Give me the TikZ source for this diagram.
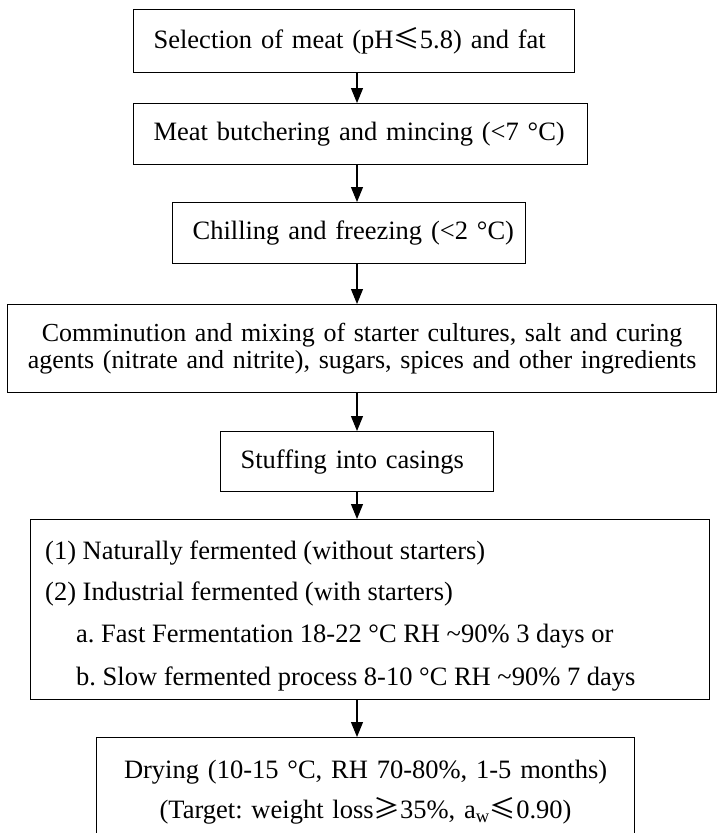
\documentclass[tikz,border=0pt]{standalone}
\usepackage{fontspec}
\setmainfont{Liberation Serif}
\newfontfamily\cjkf{Noto Sans CJK SC}
\usetikzlibrary{arrows.meta}
\newcommand{\myle}{{\cjkf ≤}}
\newcommand{\myge}{{\cjkf ≥}}
\frenchspacing
\begin{document}
\begin{tikzpicture}[x=1pt,y=-1pt,
  every node/.style={font=\fontsize{26.5}{28}\selectfont, inner sep=0pt},
  box/.style={draw, line width=1.2pt, anchor=north west},
  lbox/.style={box, align=left},
  cbox/.style={box, align=center},
  arr/.style={line width=1.1pt, -{Triangle[width=12pt,length=15pt]}}]
\clip (0,0) rectangle (717,833);
\fill[white] (0,0) rectangle (717,833);
\coordinate (ax) at (357,0);

\node[lbox, text width=441pt, minimum height=63pt] (b1) at (133,9)
  {\hspace*{20pt}Selection of meat (pH\myle5.8) and fat};
\node[lbox, text width=454pt, minimum height=61pt] (b2) at (133,103)
  {\hspace*{20pt}Meat butchering and mincing (<7~°C)};
\node[lbox, text width=353pt, minimum height=61pt] (b3) at (172,202)
  {\hspace*{20pt}Chilling and freezing (<2~°C)};
\node[cbox, text width=709pt, minimum height=88pt,
      font=\fontsize{26}{27}\selectfont] (b4) at (7,304)
  {Comminution and mixing of starter cultures, salt and curing\\
   agents (nitrate and nitrite), sugars, spices and other ingredients};
\node[lbox, text width=273pt, minimum height=60pt] (b5) at (220,431)
  {\hspace*{20pt}Stuffing into casings};
\node[box, minimum width=679pt, minimum height=180pt] (b6) at (30,519) {};
\node[anchor=base west] (t6a) at (45,559) {(1) Naturally fermented (without starters)};
\node[anchor=base west] (t6b) at (45,600) {(2) Industrial fermented (with starters)};
\node[anchor=base west] (t6c) at (76,642) {a. Fast Fermentation 18-22 °C RH \textasciitilde90\% 3 days or};
\node[anchor=base west] (t6d) at (76,685) {b. Slow fermented process 8-10 °C RH \textasciitilde90\% 7 days};
\node[cbox, text width=538pt, minimum height=110pt,
      font=\fontsize{26.5}{40}\selectfont] (b7) at (96,737)
  {Drying (10-15 °C, RH 70-80\%, 1-5 months)\\
   (Target: weight loss\myge35\%, a\textsubscript{w}\myle0.90)};

\draw[arr] (b1.south -| ax) -- (b2.north -| ax);
\draw[arr] (b2.south -| ax) -- (b3.north -| ax);
\draw[arr] (b3.south -| ax) -- (b4.north -| ax);
\draw[arr] (b4.south -| ax) -- (b5.north -| ax);
\draw[arr] (b5.south -| ax) -- (b6.north -| ax);
\draw[arr] (b6.south -| ax) -- (b7.north -| ax);
\end{tikzpicture}
\end{document}
